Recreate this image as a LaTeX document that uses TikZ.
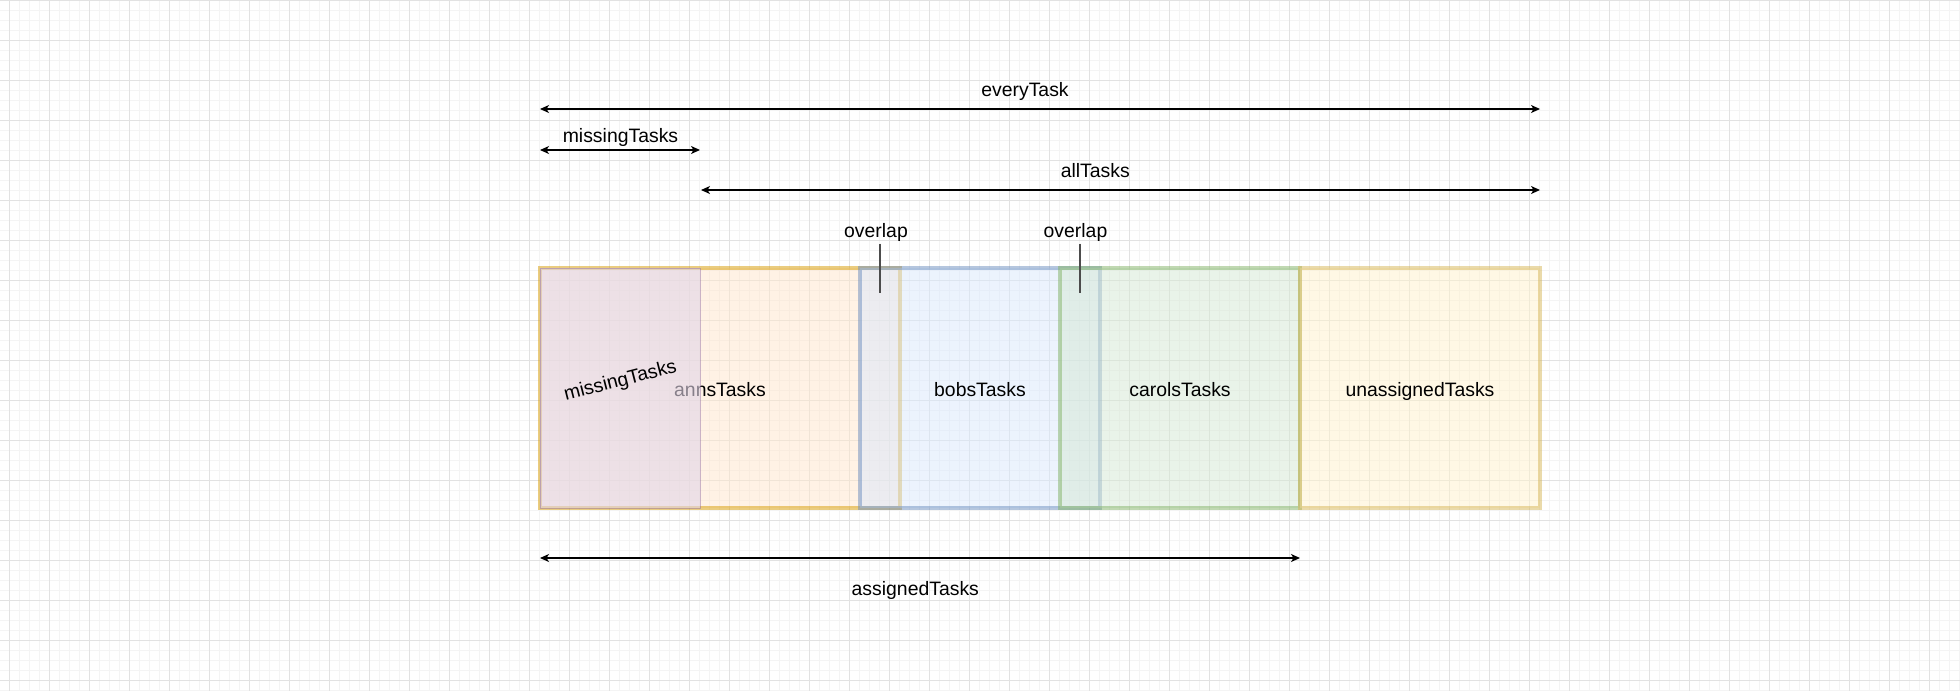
\documentclass[tikz,border=0pt]{standalone}
\usepackage{fontspec}
\setmainfont{Liberation Sans}
\usetikzlibrary{arrows.meta}
\definecolor{annF}{HTML}{FFE6CC}\definecolor{annD}{HTML}{D79B00}
\definecolor{bobF}{HTML}{DAE8FC}\definecolor{bobD}{HTML}{6C8EBF}
\definecolor{carF}{HTML}{D5E8D4}\definecolor{carD}{HTML}{82B366}
\definecolor{unaF}{HTML}{FFF2CC}\definecolor{unaD}{HTML}{D6B656}
\definecolor{misF}{HTML}{E1D5E7}\definecolor{misD}{HTML}{9673A6}
\definecolor{gridminor}{HTML}{F4F4F4}\definecolor{gridmajor}{HTML}{E2E2E2}
\newcommand{\labfont}{\fontsize{19.4}{23}\selectfont}
\tikzset{
  lab/.style={font=\labfont, inner sep=0pt, text=black},
  baselab/.style={lab, anchor=base},
  setbox/.style={draw, line width=4pt, draw opacity=0.5, fill opacity=0.5, text opacity=1,
    minimum height=240pt, inner sep=0pt, font=\labfont, text height=18pt, text depth=2pt},
  dimarrow/.style={line width=1.3pt,
    {Stealth[length=9pt,width=8pt,inset=2.5pt]}-{Stealth[length=9pt,width=8pt,inset=2.5pt]}},
  ovline/.style={line width=1.3pt, draw=black!70},
}
\begin{document}
\begin{tikzpicture}[x=1pt,y=-1pt]
\useasboundingbox (0,0) rectangle (1960,691);
\fill[white] (0,0) rectangle (1960,691);
% grid
\foreach \i in {0,...,195} {\draw[gridminor, line width=1pt] (9.3+10*\i,0) -- (9.3+10*\i,691);}
\foreach \j in {0,...,69} {\draw[gridminor, line width=1pt] (0,10*\j) -- (1960,10*\j);}
\foreach \i in {0,...,48} {\draw[gridmajor, line width=1pt] (9.3+40*\i,0) -- (9.3+40*\i,691);}
\foreach \j in {0,...,17} {\draw[gridmajor, line width=1pt] (0,40*\j) -- (1960,40*\j);}
% sets
\node[setbox, fill=annF, draw=annD, minimum width=360pt] (anns) at (720,388) {annsTasks};
\node[setbox, fill=bobF, draw=bobD, minimum width=240pt] (bobs) at (980,388) {bobsTasks};
\node[setbox, fill=carF, draw=carD, minimum width=240pt] (carols) at (1180,388) {carolsTasks};
\node[setbox, fill=unaF, draw=unaD, minimum width=240pt] (unassigned) at (1420,388) {unassignedTasks};
\node[draw=misD, line width=1pt, draw opacity=0.5, fill=misF, fill opacity=0.6,
      minimum width=160pt, minimum height=240pt, inner sep=0pt] (missing) at (620,388) {};
\node[lab, rotate=14.5] (missinglab) at (620.5,381.5) {missingTasks};
% overlap labels
\node[baselab] (ov1) at (876,237.3) {overlap};
\node[baselab] (ov2) at (1075.5,237.3) {overlap};
\coordinate (ov1end) at (880,293);
\coordinate (ov2end) at (1080,293);
\draw[ovline] ([yshift=-2pt]ov1.south -| ov1end) -- (ov1end);
\draw[ovline] ([yshift=-2pt]ov2.south -| ov2end) -- (ov2end);
% dimension arrows
\coordinate (evL) at (540,109); \coordinate (evR) at (1540,109);
\draw[dimarrow] (evL) -- (evR);
\node[baselab] (everylab) at (1025,96.7) {everyTask};
\coordinate (miL) at (540,150); \coordinate (miR) at (700,150);
\draw[dimarrow] (miL) -- (miR);
\node[baselab] (missarrlab) at (620.5,142.7) {missingTasks};
\coordinate (alL) at (701,190); \coordinate (alR) at (1540,190);
\draw[dimarrow] (alL) -- (alR);
\node[baselab] (alllab) at (1095.3,177.3) {allTasks};
\coordinate (asL) at (540,558); \coordinate (asR) at (1300,558);
\draw[dimarrow] (asL) -- (asR);
\node[baselab] (assignedlab) at (915.3,595.7) {assignedTasks};
\end{tikzpicture}
\end{document}
